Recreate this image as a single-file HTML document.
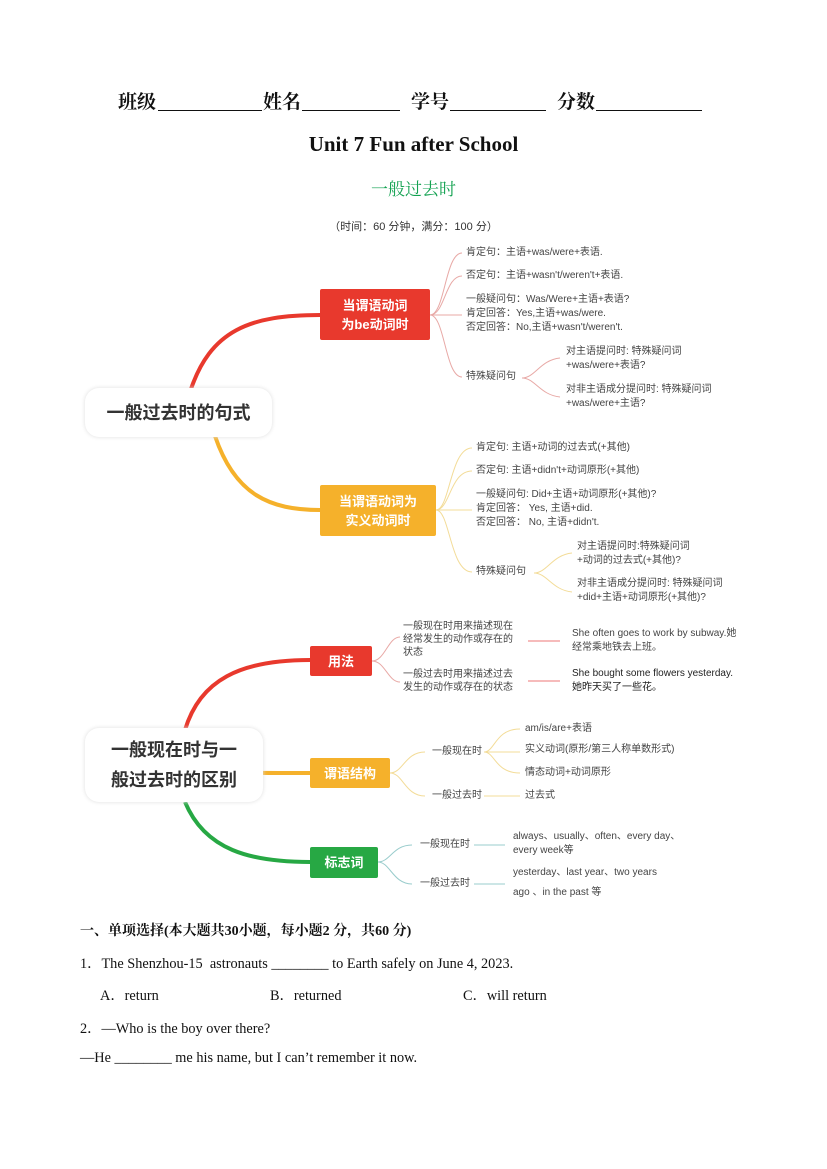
<!DOCTYPE html>
<html><head><meta charset="utf-8"><style>
body{margin:0;background:#fff;}
#p{position:relative;width:827px;height:1169px;overflow:hidden;font-family:"Liberation Serif","Noto Serif CJK SC",serif;color:#111;}
.a{position:absolute;white-space:nowrap;}
.s{font-family:"Liberation Sans","Noto Sans CJK SC",sans-serif;font-size:10px;line-height:14px;color:#444;}
.box{position:absolute;color:#fff;font-family:"Liberation Sans","Noto Sans CJK SC",sans-serif;font-weight:bold;font-size:13px;line-height:19px;display:flex;align-items:center;justify-content:center;text-align:center;border-radius:2px;}
.root{position:absolute;background:#fff;border-radius:14px;box-shadow:0 0 4px #ddd;font-family:"Liberation Sans","Noto Sans CJK SC",sans-serif;font-weight:bold;font-size:18px;color:#333;display:flex;align-items:center;justify-content:center;text-align:center;line-height:30px;}
.q{font-size:14.3px;}
.h{position:absolute;top:88px;font-size:19px;font-weight:bold;font-family:"Noto Serif CJK SC",serif;line-height:26px;}
.u{position:absolute;top:110px;height:0;border-top:1.5px solid #111;}
</style></head><body><div id="p">
<div class="h" style="left:118px;">班级</div><div class="u" style="left:158px;width:104px;"></div>
<div class="h" style="left:263px;">姓名</div><div class="u" style="left:302px;width:98px;"></div>
<div class="h" style="left:411px;">学号</div><div class="u" style="left:450px;width:96px;"></div>
<div class="h" style="left:557px;">分数</div><div class="u" style="left:596px;width:106px;"></div>
<div class="a" style="left:0;width:827px;text-align:center;top:132px;font-size:21px;font-weight:bold;">Unit 7 Fun after School</div>
<div class="a" style="left:0;width:827px;text-align:center;top:175px;font-size:17px;color:#12a150;font-family:'Noto Serif CJK SC',serif;">一般过去时</div>
<div class="a" style="left:0;width:827px;text-align:center;top:218px;font-size:11px;color:#333;font-family:'Liberation Sans','Noto Sans CJK SC',sans-serif;">（时间：60 分钟，满分：100 分）</div>

<svg class="a" style="left:0;top:0" width="827" height="1169" fill="none">
<path d="M190 392 C210 330 250 315 320 315" stroke="#e8392d" stroke-width="4"/>
<path d="M215 436 C235 495 270 510 320 510" stroke="#f5b12b" stroke-width="4"/>
<g stroke="#e8a9a6" stroke-width="1">
<path d="M430 315 C445 315 445 253 462 253"/><path d="M430 315 C445 315 445 276 462 276"/><path d="M430 315 H462"/><path d="M430 315 C445 315 445 377 462 377"/>
<path d="M522 378 C535 378 540 360 560 358"/><path d="M522 378 C535 378 540 395 560 397"/>
</g>
<g stroke="#f3dc98" stroke-width="1">
<path d="M436 510 C450 510 450 448 472 448"/><path d="M436 510 C450 510 450 471 472 471"/><path d="M436 510 H472"/><path d="M436 510 C450 510 450 572 472 572"/>
<path d="M534 573 C547 573 552 555 572 553"/><path d="M534 573 C547 573 552 590 572 592"/>
</g>
<path d="M185 730 C200 680 240 660 310 660" stroke="#e8392d" stroke-width="4"/>
<path d="M225 772 C245 773 260 773 310 773" stroke="#f5b12b" stroke-width="4"/>
<path d="M185 802 C205 850 250 862 310 862" stroke="#27a844" stroke-width="4"/>
<g stroke="#e8a9a6"><path d="M372 661 C385 661 388 637 400 637"/><path d="M372 661 C385 661 388 682 400 682"/><path d="M528 641 H560" stroke="#e77"/><path d="M528 681 H560" stroke="#e77"/></g>
<g stroke="#f3dc98"><path d="M390 773 C403 773 405 752 425 752"/><path d="M390 773 C403 773 405 796 425 796"/><path d="M484 752 C495 752 495 729 520 729"/><path d="M484 752 H520"/><path d="M484 752 C495 752 495 773 520 773"/><path d="M484 796 H520"/></g>
<g stroke="#9cc"><path d="M378 862 C390 862 393 845 412 845"/><path d="M378 862 C390 862 393 884 412 884"/><path d="M474 845 H505"/><path d="M474 884 H505"/></g>
</svg>

<div class="root" style="left:85px;top:388px;width:187px;height:49px;">一般过去时的句式</div>
<div class="box" style="left:320px;top:289px;width:110px;height:51px;background:#e8392d;">当谓语动词<br>为be动词时</div>
<div class="box" style="left:320px;top:485px;width:116px;height:51px;background:#f5b12b;">当谓语动词为<br>实义动词时</div>
<div class="a s" style="left:466px;top:246px;">肯定句：主语+was/were+表语.</div>
<div class="a s" style="left:466px;top:269px;">否定句：主语+wasn't/weren't+表语.</div>
<div class="a s" style="left:466px;top:293px;">一般疑问句：Was/Were+主语+表语?<br>肯定回答：Yes,主语+was/were.<br>否定回答：No,主语+wasn't/weren't.</div>
<div class="a s" style="left:466px;top:370px;">特殊疑问句</div>
<div class="a s" style="left:566px;top:345px;">对主语提问时: 特殊疑问词<br>+was/were+表语?</div>
<div class="a s" style="left:566px;top:383px;">对非主语成分提问时: 特殊疑问词<br>+was/were+主语?</div>
<div class="a s" style="left:476px;top:441px;">肯定句: 主语+动词的过去式(+其他)</div>
<div class="a s" style="left:476px;top:464px;">否定句: 主语+didn't+动词原形(+其他)</div>
<div class="a s" style="left:476px;top:488px;">一般疑问句: Did+主语+动词原形(+其他)?<br>肯定回答： Yes, 主语+did.<br>否定回答： No, 主语+didn't.</div>
<div class="a s" style="left:476px;top:565px;">特殊疑问句</div>
<div class="a s" style="left:577px;top:540px;">对主语提问时:特殊疑问词<br>+动词的过去式(+其他)?</div>
<div class="a s" style="left:577px;top:577px;">对非主语成分提问时: 特殊疑问词<br>+did+主语+动词原形(+其他)?</div>

<div class="root" style="left:85px;top:728px;width:178px;height:74px;">一般现在时与一<br>般过去时的区别</div>
<div class="box" style="left:310px;top:646px;width:62px;height:30px;background:#e8392d;">用法</div>
<div class="box" style="left:310px;top:758px;width:80px;height:30px;background:#f5b12b;">谓语结构</div>
<div class="box" style="left:310px;top:847px;width:68px;height:31px;background:#27a844;">标志词</div>
<div class="a s" style="left:403px;top:620px;line-height:13px;">一般现在时用来描述现在<br>经常发生的动作或存在的<br>状态</div>
<div class="a s" style="left:403px;top:668px;line-height:13px;">一般过去时用来描述过去<br>发生的动作或存在的状态</div>
<div class="a s" style="left:572px;top:627px;line-height:14px;">She often goes to work by subway.她<br>经常乘地铁去上班。</div>
<div class="a s" style="left:572px;top:667px;line-height:14px;color:#222;">She bought some flowers yesterday.<br>她昨天买了一些花。</div>
<div class="a s" style="left:432px;top:745px;">一般现在时</div>
<div class="a s" style="left:432px;top:789px;">一般过去时</div>
<div class="a s" style="left:525px;top:722px;">am/is/are+表语</div>
<div class="a s" style="left:525px;top:743px;">实义动词(原形/第三人称单数形式)</div>
<div class="a s" style="left:525px;top:766px;">情态动词+动词原形</div>
<div class="a s" style="left:525px;top:789px;">过去式</div>
<div class="a s" style="left:420px;top:838px;">一般现在时</div>
<div class="a s" style="left:420px;top:877px;">一般过去时</div>
<div class="a s" style="left:513px;top:830px;">always、usually、often、every day、<br>every week等</div>
<div class="a s" style="left:513px;top:866px;">yesterday、last year、two years</div>
<div class="a s" style="left:513px;top:886px;">ago 、in the past 等</div>

<div class="a" style="left:80px;top:920px;font-size:14px;font-weight:bold;font-family:'Liberation Serif','Noto Serif CJK SC',serif;">一、单项选择(本大题共30小题，每小题2 分，共60 分)</div>
<div class="a q" style="left:80px;top:953px;">1．The Shenzhou-15 &nbsp;astronauts ________ to Earth safely on June 4, 2023.</div>
<div class="a q" style="left:100px;top:985px;">A．return</div>
<div class="a q" style="left:270px;top:985px;">B．returned</div>
<div class="a q" style="left:463px;top:985px;">C．will return</div>
<div class="a q" style="left:80px;top:1018px;">2．—Who is the boy over there?</div>
<div class="a q" style="left:80px;top:1050px;">—He ________ me his name, but I can’t remember it now.</div>
</div></body></html>
